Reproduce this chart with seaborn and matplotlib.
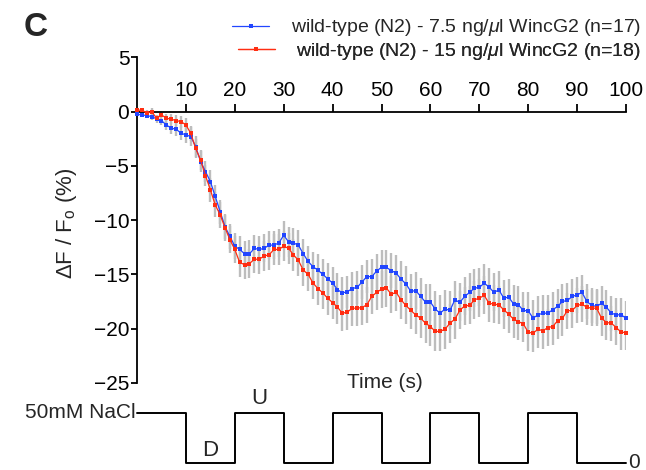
import numpy as np
import pandas as pd
import matplotlib
matplotlib.use("Agg")
import matplotlib.pyplot as plt
from matplotlib.lines import Line2D
import seaborn as sns

sns.set_style("ticks")
plt.rcParams["font.family"] = ["Liberation Sans", "DejaVu Sans"]
plt.rcParams["mathtext.fontset"] = "custom"
plt.rcParams["mathtext.rm"] = "Liberation Sans"
plt.rcParams["mathtext.it"] = "Liberation Sans:italic"

# time axis, one sample per second
time_s = np.arange(0, 101)

# 7.5 ng/ul (blue) mean dF/F0 and SEM
blue_mean = [-0.25, -0.30, -0.37, -0.46, -0.67, -0.83, -1.23, -1.53, -1.62, -1.99,
             -2.15, -2.30, -3.22, -4.60, -5.52, -6.44, -7.82, -9.21, -10.6, -11.5,
             -12.4, -12.7, -13.1, -13.1, -12.6, -12.7, -12.6, -12.3, -12.3, -12.1,
             -11.4, -12.0, -12.1, -12.3, -13.1, -13.8, -14.3, -14.6, -15.0, -15.4,
             -15.8, -16.4, -16.7, -16.6, -16.3, -16.2, -15.7, -15.2, -15.2, -14.7,
             -14.33, -14.36, -14.64, -14.88, -15.44, -15.87, -16.57, -16.48, -17.03, -17.55,
             -17.55, -18.2, -18.57, -18.17, -18.32, -17.34, -17.58, -17.03, -16.66, -16.26,
             -16.2, -15.8, -16.17, -16.66, -16.42, -17.18, -17.09, -17.71, -17.8, -18.32,
             -18.35, -19.03, -18.72, -18.57, -18.57, -18.26, -17.95, -17.49, -17.4, -17.03,
             -16.88, -16.66, -17.49, -17.86, -17.95, -17.65, -18.02, -18.57, -18.72, -18.72,
             -19.03]
blue_sem = [0.15, 0.2, 0.25, 0.3, 0.35, 0.4, 0.5, 0.55, 0.6, 0.65,
            0.75, 0.85, 0.95, 1.0, 1.0, 1.05, 1.1, 1.1, 1.15, 1.15,
            1.2, 1.2, 1.2, 1.25, 1.25, 1.25, 1.3, 1.3, 1.3, 1.3,
            1.3, 1.35, 1.35, 1.35, 1.4, 1.4, 1.4, 1.45, 1.45, 1.45,
            1.5, 1.5, 1.5, 1.5, 1.55, 1.55, 1.55, 1.55, 1.6, 1.6,
            1.6, 1.6, 1.6, 1.65, 1.65, 1.65, 1.65, 1.7, 1.7, 1.7,
            1.7, 1.7, 1.7, 1.7, 1.75, 1.75, 1.75, 1.75, 1.75, 1.75,
            1.75, 1.75, 1.75, 1.75, 1.7, 1.7, 1.7, 1.7, 1.7, 1.7,
            1.7, 1.7, 1.7, 1.7, 1.65, 1.65, 1.65, 1.65, 1.65, 1.65,
            1.65, 1.65, 1.6, 1.6, 1.6, 1.6, 1.6, 1.6, 1.55, 1.55,
            1.55]

# 15 ng/ul (red)
red_mean = [0.10, 0.16, -0.15, 0.0, -0.61, -0.30, -0.61, -0.70, -0.83, -0.92,
            -1.23, -2.0, -3.4, -4.45, -5.9, -7.2, -8.6, -9.5, -10.7, -11.8,
            -12.7, -13.9, -14.1, -14.0, -13.6, -13.6, -13.3, -13.2, -12.7, -12.7,
            -12.4, -12.6, -13.2, -13.7, -14.6, -15.0, -15.8, -16.3, -16.7, -17.2,
            -17.59, -18.02, -18.57, -18.48, -18.11, -18.11, -18.05, -17.8, -17.03, -16.66,
            -16.36, -16.26, -16.82, -16.66, -17.34, -17.86, -18.32, -18.72, -19.03, -19.49,
            -19.8, -20.25, -20.25, -20.04, -19.49, -19.12, -18.32, -17.89, -17.86, -17.34,
            -17.18, -16.94, -17.65, -17.74, -17.8, -18.26, -18.66, -19.12, -19.34, -19.55,
            -20.32, -20.41, -20.04, -20.2, -19.89, -19.8, -19.28, -19.03, -18.35, -18.32,
            -17.86, -17.74, -18.02, -18.11, -18.11, -19.03, -19.43, -19.49, -19.89, -20.32,
            -20.35]
red_sem = [0.15, 0.2, 0.25, 0.3, 0.3, 0.35, 0.4, 0.45, 0.5, 0.55,
           0.6, 0.7, 0.85, 0.95, 1.0, 1.1, 1.15, 1.2, 1.2, 1.25,
           1.25, 1.3, 1.3, 1.3, 1.3, 1.35, 1.35, 1.35, 1.4, 1.4,
           1.4, 1.4, 1.45, 1.45, 1.45, 1.5, 1.5, 1.5, 1.5, 1.55,
           1.55, 1.55, 1.6, 1.6, 1.6, 1.6, 1.65, 1.65, 1.65, 1.65,
           1.7, 1.7, 1.7, 1.7, 1.75, 1.75, 1.75, 1.75, 1.8, 1.8,
           1.8, 1.8, 1.8, 1.8, 1.8, 1.8, 1.75, 1.75, 1.75, 1.75,
           1.75, 1.75, 1.75, 1.75, 1.75, 1.75, 1.7, 1.7, 1.7, 1.7,
           1.7, 1.7, 1.7, 1.7, 1.7, 1.7, 1.7, 1.65, 1.65, 1.65,
           1.65, 1.65, 1.65, 1.65, 1.65, 1.6, 1.6, 1.6, 1.6, 1.6,
           1.6]

series_labels = ["wild-type (N2) - 7.5 ng/$\\mu$l WincG2 (n=17)",
                 "wild-type (N2) - 15 ng/$\\mu$l WincG2 (n=18)"]
series_colors = ["#2246ff", "#ff2e12"]

# NaCl stimulus trace (mM)
stim_time = [0, 10, 20, 30, 40, 50, 60, 70, 80, 90, 100]
stim_level = [50, 0, 50, 0, 50, 0, 50, 0, 50, 0, 0]

x_ticks = [10, 20, 30, 40, 50, 60, 70, 80, 90, 100]
y_ticks = [5, 0, -5, -10, -15, -20, -25]

df = pd.concat([
    pd.DataFrame({"time": time_s, "value": blue_mean, "sem": blue_sem, "group": series_labels[0]}),
    pd.DataFrame({"time": time_s, "value": red_mean, "sem": red_sem, "group": series_labels[1]}),
])

fig = plt.figure(figsize=(6.46, 4.70), dpi=100)
W, H = 646, 470
ax = fig.add_axes([137 / W, 1 - 383 / H, 489 / W, (383 - 57.3) / H])

# grey SEM bars behind the traces
for name, g in df.groupby("group", sort=False):
    ax.vlines(g["time"], g["value"] - g["sem"], g["value"] + g["sem"],
              color="#bdbdbd", lw=1.7, zorder=1)

sns.lineplot(data=df, x="time", y="value", hue="group", hue_order=series_labels,
             palette=series_colors, marker="s", markersize=3.2, markeredgewidth=0,
             linewidth=0.9, ax=ax, legend=False, zorder=3, clip_on=False)

ax.set_xlim(0, 100)
ax.set_ylim(-25, 5)
ax.spines["right"].set_visible(False)
ax.spines["bottom"].set_visible(False)
ax.spines["top"].set_position(("data", 0))
for s in ["top", "left"]:
    ax.spines[s].set_linewidth(1.3)
    ax.spines[s].set_color("black")
ax.xaxis.set_ticks_position("top")
ax.set_xticks(x_ticks)
ax.set_yticks(y_ticks)
ax.tick_params(axis="x", direction="out", length=6, width=1.3, labelsize=15, pad=2, colors="black")
ax.tick_params(axis="y", direction="out", length=4.5, width=1.3, labelsize=15, pad=1, colors="black")

ax.set_xlabel("Time (s)", fontsize=15)
ax.xaxis.set_label_coords(0.507, 0.0)
ax.xaxis.label.set_va("center")
ax.set_ylabel("ΔF / F$_\\mathregular{o}$ (%)", fontsize=16)
ax.yaxis.set_label_coords(-0.145, 0.49)
ax.yaxis.label.set_va("center")

# legend rows, right aligned
rows_y = [28, 51]
for lab, col, ry in zip(series_labels, series_colors, rows_y):
    h = Line2D([], [], color=col, lw=0.9, marker="s", markersize=3, markeredgewidth=0)
    leg = ax.legend(handles=[h], labels=[lab], loc="center right",
                    bbox_to_anchor=(641 / W, 1 - ry / H), bbox_transform=fig.transFigure,
                    frameon=False, fontsize=14, handlelength=1.9, handletextpad=1.1,
                    borderpad=0, borderaxespad=0, numpoints=1)
    ax.add_artist(leg)

fig.text(36 / W, 1 - 27 / H, "C", fontsize=24, fontweight="bold", ha="center", va="center")

# stimulus trace below the plot
ax2 = fig.add_axes([137 / W, 0, 489 / W, 75.2 / H])
ax2.set_xlim(0, 100)
ax2.set_ylim(-7, 68.2)
ax2.axis("off")
ax2.step(stim_time, stim_level, where="post", color="black", lw=1.4, clip_on=False)
ax2.text(-0.3, 50, "50mM NaCl", ha="right", va="center", fontsize=15)
ax2.text(15, 12, "D", ha="center", va="center", fontsize=16)
ax2.text(25, 65, "U", ha="center", va="center", fontsize=16)
ax2.text(100.5, 1, "0", ha="left", va="center", fontsize=15)

fig.savefig("out.png", dpi=100)
